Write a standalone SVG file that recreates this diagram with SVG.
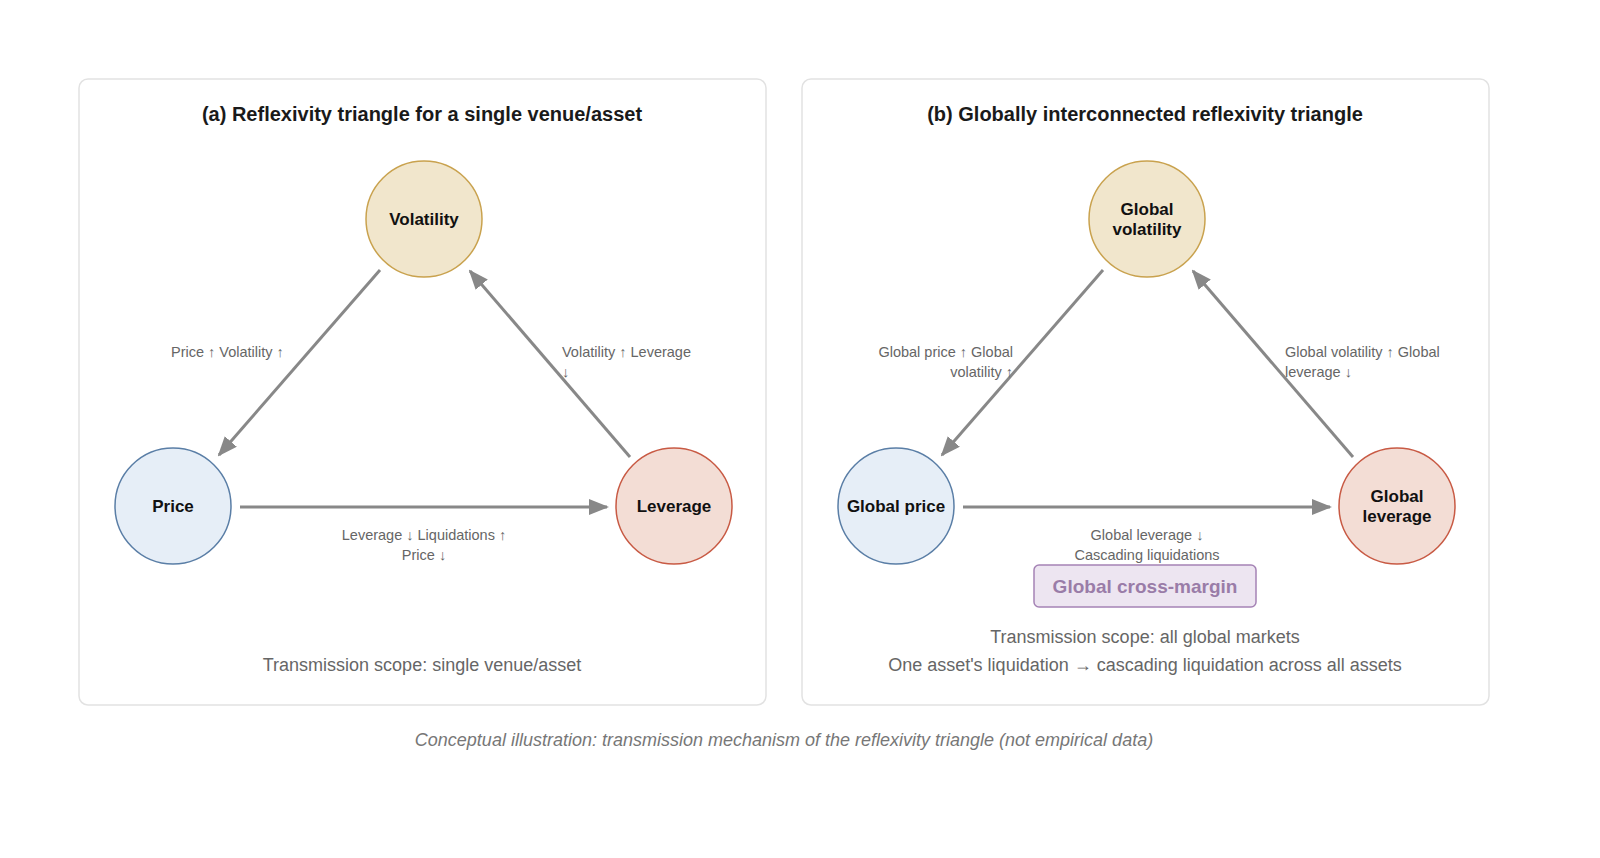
<svg xmlns="http://www.w3.org/2000/svg" width="1600" height="858" viewBox="0 0 1600 858">
<style>
text{font-family:"Liberation Sans",Arial,sans-serif}
.panel{fill:#fff;stroke:#e2e2e2;stroke-width:1.5}
.title{font-size:20px;font-weight:bold;fill:#1a1a1a;text-anchor:middle}
.node{font-size:17px;font-weight:bold;fill:#111;text-anchor:middle}
.lbl{font-size:14.5px;fill:#666}
.scope{font-size:18px;fill:#666;text-anchor:middle}
.edge{stroke:#888;stroke-width:3;fill:none;marker-end:url(#ah)}
.vol{fill:#f1e6cc;stroke:#c9a24e;stroke-width:1.5}
.pri{fill:#e6eef7;stroke:#5a7ea6;stroke-width:1.5}
.lev{fill:#f3ddd5;stroke:#c85a44;stroke-width:1.5}
</style>
<defs><marker id="ah" viewBox="0 0 20 16" refX="18" refY="8" markerWidth="20" markerHeight="16" markerUnits="userSpaceOnUse" orient="auto"><path d="M0,0 L20,8 L0,16 z" fill="#888"/></marker></defs>
<rect width="1600" height="858" fill="#fff"/>
<rect class="panel" x="79" y="79" width="687" height="626" rx="9"/>
<rect class="panel" x="802" y="79" width="687" height="626" rx="9"/>
<text class="title" x="422" y="121">(a) Reflexivity triangle for a single venue/asset</text>
<text class="title" x="1145" y="121">(b) Globally interconnected reflexivity triangle</text>
<g id="connectors">
<line class="edge" x1="380" y1="270" x2="219" y2="455"/>
<line class="edge" x1="630" y1="457" x2="470" y2="271"/>
<line class="edge" x1="240" y1="507" x2="607" y2="507"/>
<line class="edge" x1="1103" y1="270" x2="942" y2="455"/>
<line class="edge" x1="1353" y1="457" x2="1193" y2="271"/>
<line class="edge" x1="963" y1="507" x2="1330" y2="507"/>
</g>
<text class="lbl" x="171" y="357">Price ↑ Volatility ↑</text>
<text class="lbl" x="562" y="357">Volatility ↑ Leverage</text>
<text class="lbl" x="562" y="377">↓</text>
<text class="lbl" x="424" y="540" text-anchor="middle">Leverage ↓ Liquidations ↑</text>
<text class="lbl" x="424" y="560" text-anchor="middle">Price ↓</text>
<text class="lbl" x="1013" y="357" text-anchor="end">Global price ↑ Global</text>
<text class="lbl" x="1013" y="377" text-anchor="end">volatility ↑</text>
<text class="lbl" x="1285" y="357">Global volatility ↑ Global</text>
<text class="lbl" x="1285" y="377">leverage ↓</text>
<text class="lbl" x="1147" y="540" text-anchor="middle">Global leverage ↓</text>
<text class="lbl" x="1147" y="560" text-anchor="middle">Cascading liquidations</text>
<g id="volatility"><circle class="vol" cx="424" cy="219" r="58"/><text class="node" x="424" y="225">Volatility</text></g>
<g id="price"><circle class="pri" cx="173" cy="506" r="58"/><text class="node" x="173" y="512">Price</text></g>
<g id="leverage"><circle class="lev" cx="674" cy="506" r="58"/><text class="node" x="674" y="512">Leverage</text></g>
<g id="gvolatility"><circle class="vol" cx="1147" cy="219" r="58"/><text class="node" x="1147" y="215">Global</text><text class="node" x="1147" y="235">volatility</text></g>
<g id="gprice"><circle class="pri" cx="896" cy="506" r="58"/><text class="node" x="896" y="512">Global price</text></g>
<g id="gleverage"><circle class="lev" cx="1397" cy="506" r="58"/><text class="node" x="1397" y="502">Global</text><text class="node" x="1397" y="522">leverage</text></g>
<g id="crossmargin"><rect x="1034" y="565" width="222" height="42" rx="5" fill="#ede5f1" stroke="#a583b5" stroke-width="1.5"/><text x="1145" y="593" text-anchor="middle" font-size="19" font-weight="bold" fill="#9a7ca8">Global cross-margin</text></g>
<text class="scope" x="422" y="671">Transmission scope: single venue/asset</text>
<text class="scope" x="1145" y="643">Transmission scope: all global markets</text>
<text class="scope" x="1145" y="671">One asset's liquidation → cascading liquidation across all assets</text>
<text x="784" y="746" text-anchor="middle" font-size="18" font-style="italic" fill="#777">Conceptual illustration: transmission mechanism of the reflexivity triangle (not empirical data)</text>
</svg>
